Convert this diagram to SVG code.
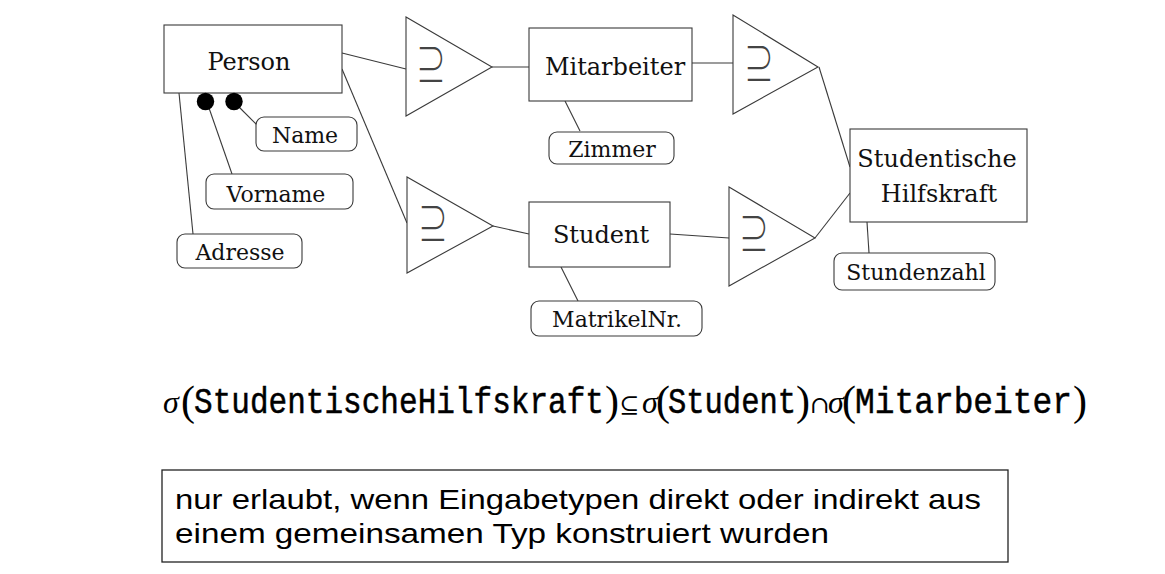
<svg xmlns="http://www.w3.org/2000/svg" width="1165" height="574" viewBox="0 0 1165 574">
<style>
.ent{fill:#fff;stroke:#3a3a3a;stroke-width:1.1}
.att{fill:#fff;stroke:#3a3a3a;stroke-width:1.1}
.tri{fill:#fff;stroke:#3a3a3a;stroke-width:1.1}
.lbl{font-family:"DejaVu Serif",serif;font-size:22px;fill:#111;text-anchor:middle}
.elbl{font-family:"DejaVu Serif",serif;font-size:24px;fill:#111;text-anchor:middle}
.sym{font-family:"Noto Sans CJK JP","DejaVu Sans",sans-serif;font-weight:300;font-size:44px;fill:#444}
.con line{stroke:#3a3a3a;stroke-width:1.1}
.mono{font-family:"Liberation Mono",monospace;font-size:36px;stroke:#000;stroke-width:0.5}
.ser{font-family:"Liberation Serif",serif;font-size:42px}
.sig{font-family:"Liberation Serif",serif;font-size:32px;font-style:italic}
.math{font-family:"DejaVu Serif",serif;font-size:24px}
.note{font-family:"Liberation Sans",sans-serif;font-size:28px;fill:#000}
</style>
<rect width="1165" height="574" fill="#fff"/>
<g id="connectors" class="con">
<line x1="342" y1="53" x2="406" y2="69"/>
<line x1="342" y1="69" x2="407" y2="223"/>
<line x1="492" y1="67" x2="529" y2="67"/>
<line x1="493" y1="226" x2="529" y2="234"/>
<line x1="692" y1="63" x2="733" y2="63"/>
<line x1="670" y1="234" x2="729" y2="238"/>
<line x1="819" y1="67" x2="850" y2="167"/>
<line x1="815" y1="238" x2="850" y2="193"/>
<line x1="179" y1="93" x2="193" y2="234"/>
<line x1="209" y1="108" x2="232" y2="174"/>
<line x1="238" y1="106" x2="257" y2="125"/>
<line x1="565" y1="101" x2="580" y2="131"/>
<line x1="561" y1="267" x2="578" y2="301"/>
<line x1="867" y1="222" x2="869" y2="253"/>
</g>
<g id="person">
<rect class="ent" x="164" y="25" width="178" height="68"/>
<text class="elbl" x="249" y="70">Person</text>
<circle cx="205.5" cy="101.5" r="8.7" fill="#000"/>
<circle cx="234" cy="101.5" r="8.7" fill="#000"/>
</g>
<g id="name">
<rect class="att" x="256" y="117" width="101" height="34" rx="8"/>
<text class="lbl" x="305" y="143">Name</text>
</g>
<g id="vorname">
<rect class="att" x="206" y="174" width="147" height="35" rx="8"/>
<text class="lbl" x="276" y="202">Vorname</text>
</g>
<g id="adresse">
<rect class="att" x="177" y="234" width="125" height="34" rx="8"/>
<text class="lbl" x="240" y="260">Adresse</text>
</g>
<g id="isa1">
<polygon class="tri" points="406,17 406,116 492,67"/>
<text class="sym" transform="translate(416,81) scale(0.68,1)">⊇</text>
</g>
<g id="isa2">
<polygon class="tri" points="407,177 407,273 493,226"/>
<text class="sym" transform="translate(418,240) scale(0.68,1)">⊇</text>
</g>
<g id="mitarbeiter">
<rect class="ent" x="529" y="28" width="163" height="73"/>
<text class="elbl" x="615" y="75">Mitarbeiter</text>
</g>
<g id="zimmer">
<rect class="att" x="549" y="132" width="125" height="32" rx="8"/>
<text class="lbl" x="612" y="157">Zimmer</text>
</g>
<g id="student">
<rect class="ent" x="529" y="202" width="141" height="65"/>
<text class="elbl" x="601" y="243">Student</text>
</g>
<g id="matrikelnr">
<rect class="att" x="531" y="301" width="171" height="35" rx="8"/>
<text class="lbl" x="617" y="327">MatrikelNr.</text>
</g>
<g id="isa3">
<polygon class="tri" points="733,15 733,114 818,67"/>
<text class="sym" transform="translate(744,80) scale(0.68,1)">⊇</text>
</g>
<g id="isa4">
<polygon class="tri" points="729,187 729,286 815,238"/>
<text class="sym" transform="translate(739,250) scale(0.68,1)">⊇</text>
</g>
<g id="studentische-hilfskraft">
<rect class="ent" x="850" y="129" width="177" height="93"/>
<text class="elbl" x="937" y="167">Studentische</text>
<text class="elbl" x="939" y="202">Hilfskraft</text>
</g>
<g id="stundenzahl">
<rect class="att" x="834" y="253" width="161" height="37" rx="8"/>
<text class="lbl" x="916" y="280">Stundenzahl</text>
</g>
<g id="formula">
<text y="413" fill="#000"><tspan class="sig" x="163">σ</tspan><tspan class="ser" x="181" y="415">(</tspan><tspan class="mono" x="194" y="413" textLength="410" lengthAdjust="spacingAndGlyphs">StudentischeHilfskraft</tspan><tspan class="ser" x="605" y="415">)</tspan><tspan class="math" x="619" y="413">⊆</tspan><tspan class="sig" x="642">σ</tspan><tspan class="ser" x="656" y="415">(</tspan><tspan class="mono" x="668" y="413" textLength="128" lengthAdjust="spacingAndGlyphs">Student</tspan><tspan class="ser" x="796" y="415">)</tspan><tspan class="math" x="810" y="413">∩</tspan><tspan class="sig" x="828">σ</tspan><tspan class="ser" x="842" y="415">(</tspan><tspan class="mono" x="855" y="413" textLength="217" lengthAdjust="spacingAndGlyphs">Mitarbeiter</tspan><tspan class="ser" x="1073" y="415">)</tspan></text>
</g>
<g id="note">
<rect x="162" y="470" width="846" height="92" fill="#fff" stroke="#222" stroke-width="1.3"/>
<text class="note" x="175" y="509" textLength="806" lengthAdjust="spacingAndGlyphs">nur erlaubt, wenn Eingabetypen direkt oder indirekt aus</text>
<text class="note" x="175" y="543" textLength="654" lengthAdjust="spacingAndGlyphs">einem gemeinsamen Typ konstruiert wurden</text>
</g>
</svg>
